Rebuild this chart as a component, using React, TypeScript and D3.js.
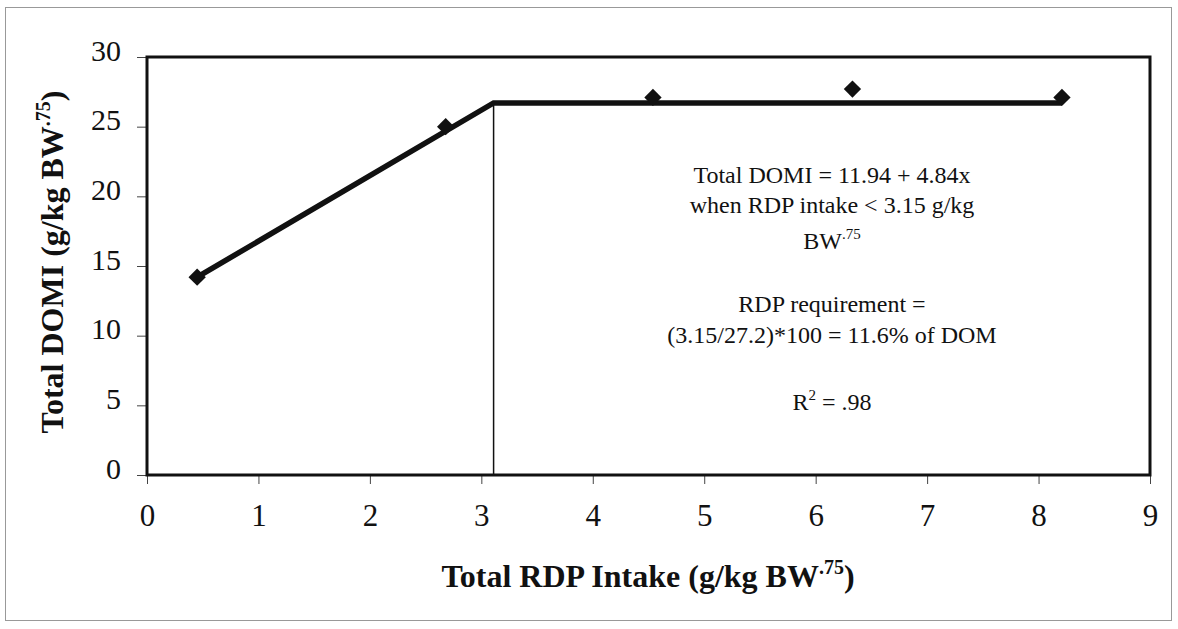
import React, { useRef, useEffect } from 'react'
import * as d3 from "d3";

// observed points
const rdpIntake = [0.45, 2.68, 4.54, 6.33, 8.21];
const totalDomi = [14.2, 25.0, 27.1, 27.7, 27.1];

// broken-line fit (rise then plateau)
const fitX = [0.45, 3.11, 8.21];
const fitY = [14.2, 26.7, 26.7];

const xTicks = [0, 1, 2, 3, 4, 5, 6, 7, 8, 9];
const yTicks = [0, 5, 10, 15, 20, 25, 30];

const annotationLines = [
    { text: "Total DOMI = 11.94 + 4.84x", sup: "" },
    { text: "when RDP intake < 3.15 g/kg", sup: "" },
    { text: "BW", sup: ".75" },
    { text: "RDP requirement =", sup: "" },
    { text: "(3.15/27.2)*100 = 11.6% of DOM", sup: "" },
    { text: "R", sup: "2", after: " = .98" },
];
const annotationBaselines = [183, 213, 249, 312, 343, 410];

function App() {

    const chartRef = useRef(null);

    useEffect(() => {
        drawChart();
    }, []);

    const drawChart = () => {
        if (!chartRef.current) return;

        const width = 1178;
        const height = 629;
        const font = "Liberation Serif, Times New Roman, serif";

        // plot area
        const margin = { top: 57, right: 30, bottom: 154, left: 147 };
        const innerW = 1150 - margin.left;
        const innerH = 475 - margin.top;

        const svgRoot = d3.select(chartRef.current);
        svgRoot.selectAll("*").remove();
        svgRoot.attr("width", width).attr("height", height);

        svgRoot.append("rect")
            .attr("width", width)
            .attr("height", height)
            .attr("fill", "#fff");

        // outer frame
        svgRoot.append("rect")
            .attr("x", 5.5)
            .attr("y", 7.5)
            .attr("width", 1166)
            .attr("height", 613)
            .attr("fill", "none")
            .attr("stroke", "#999")
            .attr("stroke-width", 1);

        const svg = svgRoot.append("g")
            .attr("transform", `translate(${margin.left}, ${margin.top})`);

        const x = d3.scaleLinear().domain([0, 9]).range([0, innerW]);
        const y = d3.scaleLinear().domain([0, 30]).range([innerH, 0]);

        // X axis ticks + labels
        const xAxis = svg.append("g")
            .attr("transform", `translate(0, ${innerH})`)
            .call(d3.axisBottom(x).tickValues(xTicks).tickSize(9).tickPadding(20).tickFormat(d3.format("d")));
        xAxis.select(".domain").remove();
        xAxis.selectAll("line").attr("stroke", "#444").attr("stroke-width", 1);
        xAxis.selectAll("text")
            .attr("font-family", font)
            .attr("font-size", 31)
            .attr("fill", "#111")
            .attr("dy", "0.71em");

        // Y axis ticks + labels
        const yAxis = svg.append("g")
            .call(d3.axisLeft(y).tickValues(yTicks).tickSize(10).tickPadding(16).tickFormat(d3.format("d")));
        yAxis.select(".domain").remove();
        yAxis.selectAll("line").attr("stroke", "#444").attr("stroke-width", 1);
        yAxis.selectAll("text")
            .attr("font-family", font)
            .attr("font-size", 30)
            .attr("fill", "#111")
            .attr("dy", "0.1em");

        // plot frame
        svg.append("rect")
            .attr("x", 0)
            .attr("y", 0)
            .attr("width", innerW)
            .attr("height", innerH)
            .attr("fill", "none")
            .attr("stroke", "#111")
            .attr("stroke-width", 3);

        // vertical line at breakpoint
        svg.append("line")
            .attr("x1", x(fitX[1]))
            .attr("x2", x(fitX[1]))
            .attr("y1", y(fitY[1]))
            .attr("y2", innerH)
            .attr("stroke", "#111")
            .attr("stroke-width", 1.5);

        // fitted line
        const fitData = fitX.map((d, i) => [d, fitY[i]]);
        const line = d3.line()
            .x(d => x(d[0]))
            .y(d => y(d[1]));

        svg.append("path")
            .datum(fitData)
            .attr("d", line)
            .attr("fill", "none")
            .attr("stroke", "#111")
            .attr("stroke-width", 5.5)
            .attr("stroke-linejoin", "miter");

        // diamond markers
        const diamond = d3.symbol().type(d3.symbolSquare).size(150);
        svg.selectAll(".pt")
            .data(rdpIntake.map((d, i) => [d, totalDomi[i]]))
            .enter()
            .append("path")
            .attr("class", "pt")
            .attr("d", diamond)
            .attr("transform", d => `translate(${x(d[0])}, ${y(d[1])}) rotate(45)`)
            .attr("fill", "#111");

        // annotation
        const ann = svgRoot.append("g");
        annotationLines.forEach((l, i) => {
            const t = ann.append("text")
                .attr("x", 832)
                .attr("y", annotationBaselines[i])
                .attr("text-anchor", "middle")
                .attr("font-family", font)
                .attr("fill", "#111")
                .attr("font-size", 24);
            t.append("tspan").text(l.text);
            if (l.sup) {
                t.append("tspan").attr("font-size", 15).attr("dy", -10).text(l.sup);
            }
            if (l.after) {
                t.append("tspan").attr("dy", 10).text(l.after);
            }
        });

        // X axis title
        const xt = svgRoot.append("text")
            .attr("x", 648)
            .attr("y", 587)
            .attr("text-anchor", "middle")
            .attr("font-family", font)
            .attr("font-weight", "bold")
            .attr("font-size", 32)
            .attr("fill", "#111");
        xt.append("tspan").text("Total RDP Intake (g/kg BW");
        xt.append("tspan").attr("font-size", 20).attr("dy", -13).text(".75");
        xt.append("tspan").attr("dy", 13).text(")");

        // Y axis title
        const yt = svgRoot.append("text")
            .attr("transform", "translate(63, 262) rotate(-90)")
            .attr("text-anchor", "middle")
            .attr("font-family", font)
            .attr("font-weight", "bold")
            .attr("font-size", 32)
            .attr("fill", "#111");
        yt.append("tspan").text("Total DOMI (g/kg BW");
        yt.append("tspan").attr("font-size", 20).attr("dy", -13).text(".75");
        yt.append("tspan").attr("dy", 13).text(")");
    };

  return (
    <div style={{ position: "absolute", left: 0, top: 0 }}>
        <svg ref={chartRef} style={{ display: "block" }}></svg>
    </div>
  )
}

export default App
